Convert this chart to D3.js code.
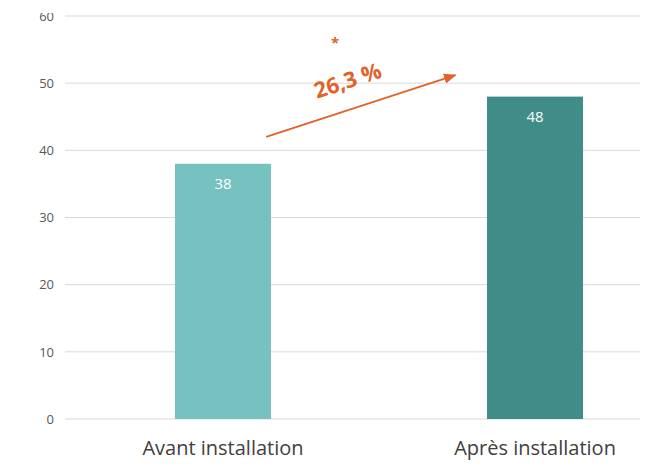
<!DOCTYPE html>
<html><head><meta charset="utf-8">
<script src="https://cdn.jsdelivr.net/npm/d3@7"></script>
<style>body{margin:0;background:#fff}svg{display:block}</style>
</head><body>
<script>
const categories = ["Avant installation", "Après installation"];
const values = [38, 48];
const barColors = ["#76c2c0", "#3f8c89"];
const yTicks = [0, 10, 20, 30, 40, 50, 60];
const changeLabel = "26,3 %";
const starLabel = "*";

const W = 646, H = 465;
const svg = d3.select("body").append("svg").attr("width", W).attr("height", H);

const y = d3.scaleLinear().domain([0, 60]).range([419, 16]);
const x = d3.scaleBand().domain(categories).range([67, 691]).paddingInner(0.6923).paddingOuter(0.346);
const bw = x.bandwidth();

// gridlines
svg.append("g").selectAll("line").data(yTicks).join("line")
  .attr("x1", 65).attr("x2", 640)
  .attr("y1", d => y(d)).attr("y2", d => y(d))
  .attr("stroke", "#d9d9d9").attr("stroke-width", 1);

// y axis labels
const yAxis = d3.axisLeft(y).tickValues(yTicks).tickSize(0).tickPadding(0);
const ga = svg.append("g").attr("transform", "translate(54,0)").call(yAxis);
ga.select(".domain").remove();
ga.selectAll("text").attr("font-family", "Open Sans, sans-serif").attr("font-size", 13).attr("fill", "#595959");

// bars
svg.append("g").selectAll("rect").data(values).join("rect")
  .attr("x", (d, i) => x(categories[i]))
  .attr("y", d => y(d))
  .attr("width", bw)
  .attr("height", d => y(0) - y(d))
  .attr("fill", (d, i) => barColors[i]);

// value labels
svg.append("g").selectAll("text").data(values).join("text")
  .attr("x", (d, i) => x(categories[i]) + bw / 2)
  .attr("y", d => y(d) + 25)
  .attr("text-anchor", "middle")
  .attr("font-family", "Open Sans, sans-serif").attr("font-size", 15)
  .attr("fill", "#ffffff")
  .text(d => d);

// category labels
const xAxis = d3.axisBottom(x).tickSize(0).tickPadding(0);
const gx = svg.append("g").attr("transform", "translate(0,441)").call(xAxis);
gx.select(".domain").remove();
gx.selectAll("text").attr("font-family", "Open Sans, sans-serif").attr("font-size", 20).attr("fill", "#404040");

// arrow annotation
const orange = "#e0632a";
const x1 = x(categories[0]) + bw * 0.95, y1 = y(42);
const x2 = x(categories[1]) - bw * 0.33, y2 = y(51.2);
svg.append("defs").append("marker")
  .attr("id", "ah").attr("viewBox", "0 0 10 10").attr("refX", 9).attr("refY", 5)
  .attr("markerWidth", 7).attr("markerHeight", 7).attr("orient", "auto")
  .append("path").attr("d", "M0,1 L10,5 L0,9 Z").attr("fill", orange);
svg.append("line").attr("x1", x1).attr("y1", y1).attr("x2", x2).attr("y2", y2)
  .attr("stroke", orange).attr("stroke-width", 1.8).attr("marker-end", "url(#ah)");

const ang = Math.atan2(y2 - y1, x2 - x1) * 180 / Math.PI;
const tx = 350, ty = 88;
svg.append("text").attr("transform", `translate(${tx},${ty}) rotate(${ang})`)
  .attr("text-anchor", "middle")
  .attr("font-family", "Open Sans, sans-serif").attr("font-weight", "bold").attr("font-size", 22)
  .attr("fill", orange).text(changeLabel);
svg.append("text").attr("x", 335).attr("y", 48).attr("text-anchor", "middle")
  .attr("font-family", "Open Sans, sans-serif").attr("font-weight", "bold").attr("font-size", 15)
  .attr("fill", orange).text(starLabel);

// top crop
svg.append("rect").attr("x", 0).attr("y", 0).attr("width", W).attr("height", 13).attr("fill", "#fff");
</script>
</body></html>
